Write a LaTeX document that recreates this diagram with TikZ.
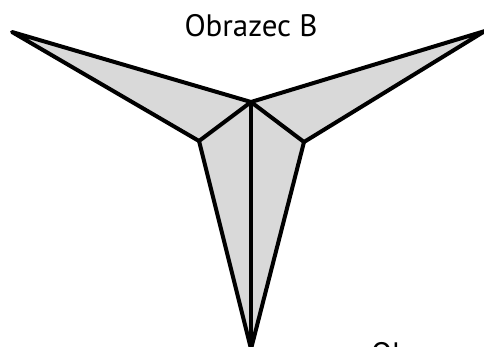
\documentclass[tikz,border=0pt]{standalone}
\usepackage{fontspec}
\setmainfont{PT Sans}
\begin{document}
\begin{tikzpicture}[x=1pt,y=-1pt,
  edge/.style={line width=4pt,line join=round,line cap=round},
  face/.style={fill=black!15},
  lab/.style={font=\fontsize{31}{36}\selectfont,inner sep=0pt}]
\useasboundingbox (0,0) rectangle (484,347);
\clip (0,0) rectangle (484,347);
\coordinate (C) at (251,102);
\coordinate (L) at (12,32);
\coordinate (R) at (485,31);
\coordinate (LI) at (199,141);
\coordinate (RI) at (304,142);
\coordinate (B) at (251,349);
\fill[face] (L) -- (C) -- (R) -- (RI) -- (B) -- (LI) -- cycle;
\draw[edge] (L) -- (C) -- (R) -- (RI) -- (B) -- (LI) -- cycle;
\draw[edge] (C) -- (LI);
\draw[edge] (C) -- (RI);
\draw[edge] (C) -- (B);
\node[lab,anchor=base] (t1) at (251,37) {Obrazec B};
\node[lab,anchor=base west] (t2) at (371,364) {Ob};
\end{tikzpicture}
\end{document}
